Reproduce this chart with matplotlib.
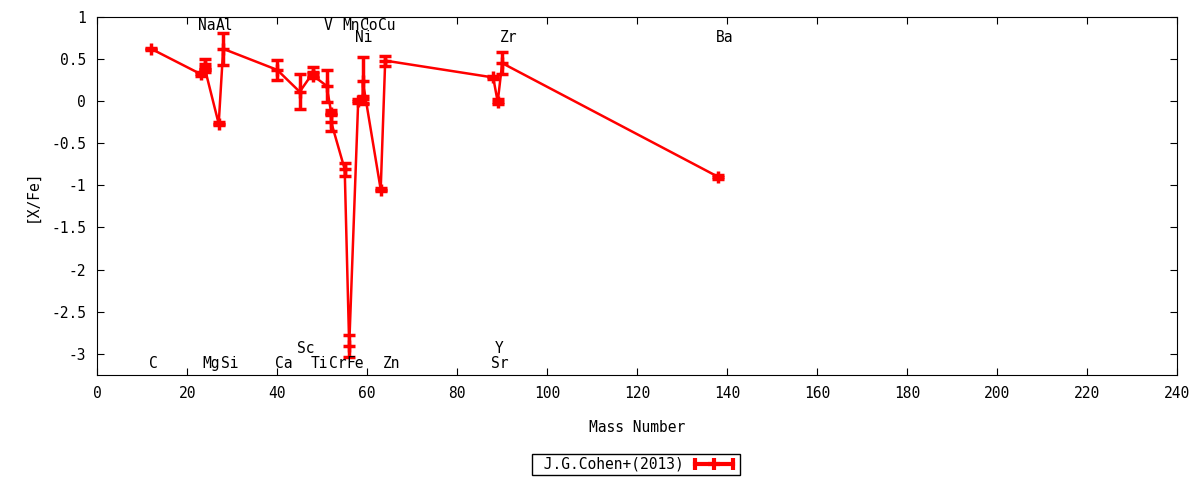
import matplotlib.pyplot as plt
from matplotlib.lines import Line2D
from matplotlib.legend_handler import HandlerLine2D, HandlerTuple

plt.rcParams['font.family'] = ['DejaVu Sans Mono', 'DejaVu Sans']

# abundance points, sorted by mass number of the main isotope
mass = [12, 23, 24, 24, 27, 28, 40, 45, 48, 48, 51, 52, 52, 55, 56,
        58, 59, 59, 63, 64, 88, 89, 90, 138]
xfe = [0.62, 0.32, 0.44, 0.37, -0.27, 0.62, 0.37, 0.11, 0.34, 0.30, 0.18, -0.14, -0.25, -0.81, -2.91,
       0.00, 0.02, 0.24, -1.05, 0.48, 0.28, -0.01, 0.45, -0.90]
xfe_err = [0.01, 0.02, 0.06, 0.03, 0.02, 0.19, 0.12, 0.21, 0.06, 0.03, 0.19, 0.03, 0.10, 0.08, 0.13,
           0.02, 0.04, 0.28, 0.02, 0.06, 0.02, 0.03, 0.13, 0.02]

# element names, their mass numbers and the label row (0/1 top, 2/3 bottom)
elem = ["C", "Na", "Mg", "Al", "Si", "Ca", "Sc", "Ti", "V", "Cr", "Mn", "Fe",
        "Ni", "Co", "Cu", "Zn", "Sr", "Y", "Zr", "Ba"]
elem_mass = [12, 23, 24, 27, 28, 40, 45, 48, 51, 52, 55, 56, 58, 59, 63, 64, 88, 89, 90, 138]
elem_row = [2, 0, 2, 0, 2, 2, 3, 2, 0, 2, 0, 2, 1, 0, 0, 2, 2, 3, 1, 1]
row_y = {0: 0.895, 1: 0.755, 2: -3.11, 3: -2.94}

fig = plt.figure(figsize=(12, 4.8), dpi=100)
ax = fig.add_axes([0.081, 0.219, 0.9, 0.746])

ax.errorbar(mass, xfe, yerr=xfe_err, color="red", lw=1.8, marker="+", ms=8, mew=2.5,
            elinewidth=2.5, capsize=4, capthick=2.5)

for name, m, r in zip(elem, elem_mass, elem_row):
    ax.text(m - 0.6, row_y[r], name, ha="left", va="center", fontsize=10.5)

ax.set_xlim(0, 240)
ax.set_ylim(-3.25, 1.0)
ax.set_xticks(range(0, 241, 20))
ax.set_yticks([-3, -2.5, -2, -1.5, -1, -0.5, 0, 0.5, 1])
ax.set_yticklabels(["-3", "-2.5", "-2", "-1.5", "-1", "-0.5", "0", "0.5", "1"])
ax.tick_params(direction="in", top=True, right=True, length=5, labelsize=10.5, pad=8)
ax.set_xlabel("Mass Number", fontsize=10.5, labelpad=14)
ax.set_ylabel("[X/Fe]", fontsize=10.5, labelpad=8)

# gnuplot-style key sample: horizontal line with end caps and a point in the middle
caps = Line2D([], [], color="red", lw=3, marker="|", ms=9, mew=3)
plus = Line2D([], [], color="red", lw=0, marker="+", ms=9, mew=3)
leg = fig.legend([(caps, plus)], [" J.G.Cohen+(2013)"], loc="center", bbox_to_anchor=(0.53, 0.033),
                 markerfirst=False, fontsize=10.5, fancybox=False, edgecolor="black", framealpha=1,
                 borderpad=0.2, handlelength=3.2, handletextpad=0.5,
                 handler_map={tuple: HandlerTuple(ndivide=1),
                              caps: HandlerLine2D(numpoints=2),
                              plus: HandlerLine2D(numpoints=1)})
leg.get_frame().set_linewidth(1.0)

fig.savefig("out.png", dpi=100)
